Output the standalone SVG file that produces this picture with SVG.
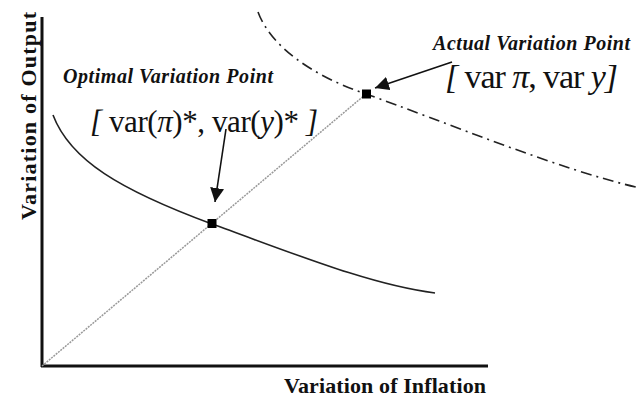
<svg xmlns="http://www.w3.org/2000/svg" width="643" height="398" viewBox="0 0 643 398">
<style>
.axis{stroke:#111;stroke-width:3;fill:none}
.curve{stroke:#222;stroke-width:1.6;fill:none}
.dashdot{stroke:#222;stroke-width:1.6;fill:none;stroke-dasharray:11 5 2 5}
.diag{stroke:#999;stroke-width:1.5;fill:none;stroke-dasharray:2 1}
.arrow{stroke:#111;stroke-width:1.6;fill:none;marker-end:url(#ah)}
.pt{fill:#000}
.it{font-style:italic}
</style>
<defs>
<marker id="ah" markerUnits="userSpaceOnUse" markerWidth="16" markerHeight="14" refX="14" refY="7" orient="auto">
<path d="M0,0 L14,7 L0,14 Z" fill="#111"/>
</marker>
</defs>
<g id="axes">
<line class="axis" x1="42" y1="17" x2="42" y2="367"/>
<line class="axis" x1="41" y1="366" x2="488" y2="366"/>
</g>
<g id="curves">
<path id="optimal-curve" class="curve" d="M53,115 C70,160 120,190 212,224 C290,252 370,285 435,293"/>
<path id="actual-curve" class="dashdot" d="M258,12 C270,45 310,75 366,94 C440,120 560,170 640,188"/>
<line id="diagonal" class="diag" x1="42" y1="366" x2="366" y2="94"/>
</g>
<g id="connectors">
<line class="arrow" x1="226" y1="129" x2="215" y2="202"/>
<line class="arrow" x1="452" y1="62" x2="375" y2="88"/>
</g>
<g id="optimal-point">
<rect class="pt" x="207.5" y="219" width="9" height="9"/>
<text font-family="Liberation Serif, serif" font-weight="bold" font-style="italic" font-size="20" fill="#111" x="63" y="83" textLength="210" lengthAdjust="spacing">Optimal Variation Point</text>
<text font-family="Liberation Serif, serif" font-size="31" fill="#111" x="90" y="132" textLength="228" lengthAdjust="spacing"><tspan class="it">[</tspan> var(<tspan class="it">π</tspan>)*, var(<tspan class="it">y</tspan>)* <tspan class="it">]</tspan></text>
</g>
<g id="actual-point">
<rect class="pt" x="362" y="89.5" width="9" height="9"/>
<text font-family="Liberation Serif, serif" font-weight="bold" font-style="italic" font-size="20" fill="#111" x="433" y="50" textLength="197" lengthAdjust="spacing">Actual Variation Point</text>
<text font-family="Liberation Serif, serif" font-size="34" fill="#111" x="445" y="88" textLength="173" lengthAdjust="spacing"><tspan class="it">[</tspan> var <tspan class="it">π</tspan>, var <tspan class="it">y</tspan><tspan class="it">]</tspan></text>
</g>
<g id="axis-labels">
<text font-family="Liberation Serif, serif" font-weight="bold" font-size="22" fill="#111" x="284" y="393" textLength="202" lengthAdjust="spacing">Variation of Inflation</text>
<text font-family="Liberation Serif, serif" font-weight="bold" font-size="22" fill="#111" transform="translate(36,220) rotate(-90)" x="0" y="0" textLength="208" lengthAdjust="spacing">Variation of Output</text>
</g>
</svg>
